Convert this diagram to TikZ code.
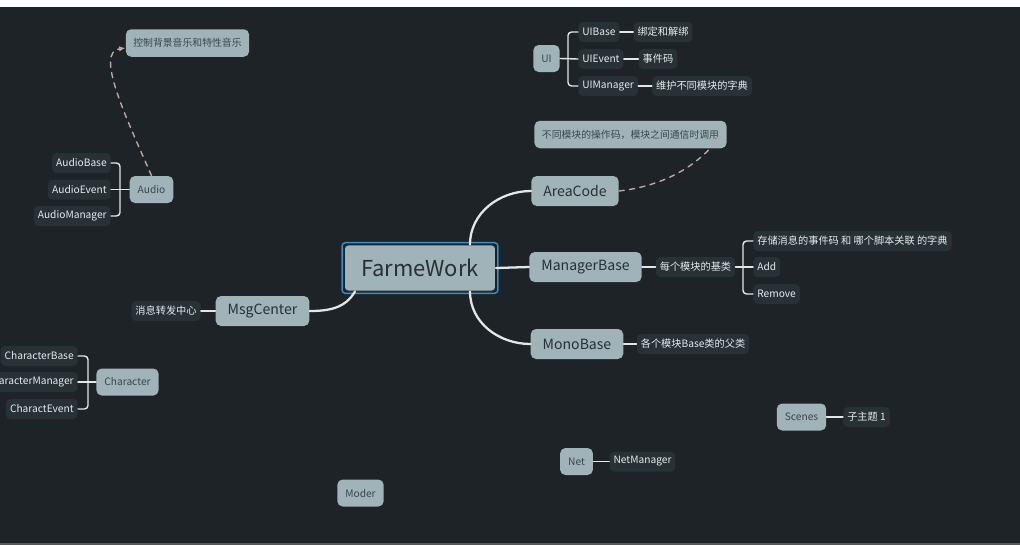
\documentclass[tikz,border=0pt]{standalone}
\usepackage{fontspec}
\setmainfont{Noto Sans CJK SC}
\definecolor{mapbg}{HTML}{1D2326}
\definecolor{topicfill}{HTML}{A0B3B8}
\definecolor{topictext}{HTML}{263035}
\definecolor{subtext}{HTML}{3A474C}
\definecolor{leaffill}{HTML}{283136}
\definecolor{leaftext}{HTML}{E6EAEC}
\definecolor{branchline}{HTML}{E4E6E6}
\definecolor{noteline}{HTML}{B9A7A3}
\definecolor{selectframe}{HTML}{2F93D3}
\usetikzlibrary{arrows.meta,calc}

\begin{document}
\begin{tikzpicture}[
  x=0.02cm,y=-0.02cm,
  line join=round,
  line cap=round,
  roottopic/.style={fill=topicfill,draw=mapbg,line width=0.5pt,rounded corners=2pt,minimum width=3.02cm,minimum height=0.92cm,inner sep=0pt,font=\fontsize{12.5}{14}\selectfont,text=topictext},
  maintopic/.style={fill=topicfill,rounded corners=3pt,inner xsep=0.24cm,inner ysep=0pt,minimum height=0.6cm,font=\fontsize{8}{10}\selectfont,text=topictext},
  subtopic/.style={fill=topicfill,rounded corners=3pt,inner xsep=0.16cm,inner ysep=0pt,minimum height=0.54cm,font=\fontsize{5.8}{7}\selectfont,text=subtext},
  notebox/.style={fill=topicfill,rounded corners=3pt,inner xsep=0.15cm,inner ysep=0pt,minimum height=0.55cm,font=\fontsize{5.6}{7}\selectfont,text=subtext},
  leaf/.style={fill=leaffill,rounded corners=2.5pt,inner xsep=0.08cm,inner ysep=0pt,minimum height=0.4cm,font=\fontsize{5.8}{7}\selectfont,text=leaftext},
  branch/.style={draw=branchline,line width=1.3pt},
  twig/.style={draw=branchline,line width=0.8pt,rounded corners=2pt},
  notelink/.style={draw=noteline,line width=0.8pt,dashed,-{Latex[length=1.3mm,width=1.1mm]}},
  selframe/.style={draw=selectframe,line width=0.8pt,rounded corners=2pt}
]
  \useasboundingbox (0,0) rectangle (1020,545);
  \fill[white] (0,0) rectangle (1020,7);
  \fill[mapbg] (0,7) rectangle (1020,543);
  \fill[gray!70!black] (0,543) rectangle (1020,545);

  % centre and main branches
  \node[roottopic] (fw) at (420,268) {FarmeWork};
  \draw[selframe] ($(fw.north west)+(-2,-2)$) rectangle ($(fw.south east)+(2,2)$);

  \node[maintopic] (ac) at (575,191) {AreaCode};
  \node[maintopic] (mgr) at (585.5,267) {ManagerBase};
  \node[maintopic] (mono) at (577,344) {MonoBase};
  \node[maintopic] (msg) at (262.5,311) {MsgCenter};

  \draw[branch] ([xshift=1cm]fw.north) to[out=90,in=180] (ac.west);
  \draw[branch] (fw.east) -- (mgr.west);
  \draw[branch] ([xshift=1cm]fw.south) to[out=-90,in=180] (mono.west);
  \draw[branch] ([xshift=-1.3cm]fw.south) to[out=-120,in=0] (msg.east);

  % AreaCode note
  \node[notebox] (acnote) at (630.5,134.5) {不同模块的操作码，模块之间通信时调用};
  \draw[notelink] (ac.east) .. controls (670,185) and (700,162) .. ([xshift=-0.1cm]acnote.east);

  % ManagerBase
  \node[leaf] (mgrbase) at (695.5,267) {每个模块的基类};
  \node[leaf,anchor=west] (mgrdict) at (753,241) {存储消息的事件码 和 哪个脚本关联 的字典};
  \node[leaf,anchor=west] (mgradd) at (753,267) {Add};
  \node[leaf,anchor=west] (mgrrem) at (753,294) {Remove};
  \coordinate (mgrjoin) at (743,267);
  \draw[twig] (mgr.east) -- (mgrbase.west);
  \draw[twig] (mgrdict.west) -| (mgrjoin) |- (mgrrem.west);
  \draw[twig] (mgrbase.east) -- (mgradd.west);

  % MonoBase
  \node[leaf] (monoleaf) at (693,344) {各个模块Base类的父类};
  \draw[twig] (mono.east) -- (monoleaf.west);

  % MsgCenter
  \node[leaf] (msgleaf) at (166,311) {消息转发中心};
  \draw[twig] (msg.west) -- (msgleaf.east);

  % UI
  \node[subtopic] (ui) at (546.5,58.5) {UI};
  \node[leaf,anchor=west] (uibase) at (578,32) {UIBase};
  \node[leaf,anchor=west] (uievent) at (578,59) {UIEvent};
  \node[leaf,anchor=west] (uimgr) at (578,86) {UIManager};
  \node[leaf] (uibind) at (663,32) {绑定和解绑};
  \node[leaf] (uicode) at (658,59) {事件码};
  \node[leaf] (uidict) at (702,86) {维护不同模块的字典};
  \coordinate (uijoin) at (568,58.5);
  \draw[twig] (uibase.west) -| (uijoin) |- (uimgr.west);
  \draw[twig] (ui.east) -- (uievent.west);
  \draw[twig] (uibase.east) -- (uibind.west);
  \draw[twig] (uievent.east) -- (uicode.west);
  \draw[twig] (uimgr.east) -- (uidict.west);

  % Audio
  \node[subtopic] (au) at (151.5,189.5) {Audio};
  \node[leaf,anchor=east] (aubase) at (111,163) {AudioBase};
  \node[leaf,anchor=east] (auevent) at (111,189.5) {AudioEvent};
  \node[leaf,anchor=east] (aumgr) at (111,216) {AudioManager};
  \node[notebox] (aunote) at (187.5,43) {控制背景音乐和特性音乐};
  \coordinate (aujoin) at (120,189.5);
  \draw[twig] (aubase.east) -| (aujoin) |- (aumgr.east);
  \draw[twig] (au.west) -- (auevent.east);
  \draw[notelink] (au.north) .. controls (125,115) and (95,52) .. ([yshift=-0.1cm]aunote.west);

  % Character
  \node[subtopic] (chr) at (127.5,382) {Character};
  \node[leaf,anchor=east] (chrbase) at (78,356) {CharacterBase};
  \node[leaf,anchor=east] (chrmgr) at (78,382) {CharacterManager};
  \node[leaf,anchor=east] (chrevent) at (78,409) {CharactEvent};
  \coordinate (chrjoin) at (88,382);
  \draw[twig] (chrbase.east) -| (chrjoin) |- (chrevent.east);
  \draw[twig] (chr.west) -- (chrmgr.east);

  % floating topics
  \node[subtopic] (sc) at (801.5,417) {Scenes};
  \node[leaf] (scleaf) at (866.5,417) {子主题 1};
  \draw[twig] (sc.east) -- (scleaf.west);

  \node[subtopic] (net) at (576.5,461.5) {Net};
  \node[leaf] (netmgr) at (642.5,461.5) {NetManager};
  \draw[twig] (net.east) -- (netmgr.west);

  \node[subtopic] (moder) at (360.5,493) {Moder};
\end{tikzpicture}
\end{document}
